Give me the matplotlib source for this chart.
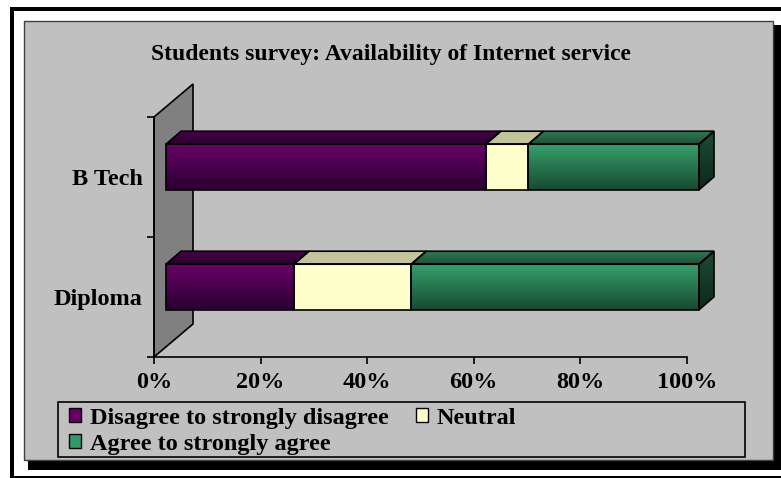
import numpy as np
import matplotlib.pyplot as plt
from matplotlib.patches import Polygon, Rectangle, Patch
from matplotlib.colors import to_rgb

plt.rcParams['font.family'] = ['Liberation Serif', 'DejaVu Serif']
plt.rcParams['font.weight'] = 'bold'

# shares in percent, rows bottom to top: Diploma, B Tech
categories = ['Diploma', 'B Tech']
disagree = [24, 60]
neutral = [22, 8]
agree = [54, 32]
series_names = ['Disagree to strongly disagree', 'Neutral', 'Agree to strongly agree']
x_ticks = [0, 20, 40, 60, 80, 100]
x_tick_labels = ['0%', '20%', '40%', '60%', '80%', '100%']
title = 'Students survey: Availability of Internet service'

# face colours: (front top, front bottom), (top face front, top face back)
front_cols = [('#680068', '#2a0030'), ('#ffffcc', '#ffffcc'), ('#35a06c', '#184a32')]
top_cols = [('#48004a', '#2c002e'), ('#c4c49c', '#c4c49c'), ('#2f7a54', '#1e5038')]
side_cols = ('#1c4a36', '#0c2a1c')
legend_cols = ['#660066', '#ffffcc', '#339966']

W, H = 781, 478
FS = 17.5
fig = plt.figure(figsize=(W / 100, H / 100), dpi=100)
fig.patch.set_facecolor('white')

# pixel canvas (origin top-left) for the frame, wall and 3D bar faces
bg = fig.add_axes([0, 0, 1, 1])
bg.set_xlim(0, W)
bg.set_ylim(H, 0)
bg.axis('off')

# outer frame, shadow and chart area
bg.add_patch(Rectangle((10, 7), 4, H - 7, color='black', lw=0))
bg.add_patch(Rectangle((10, 7), W - 10, 4, color='black', lw=0))
bg.add_patch(Rectangle((10, 476), W - 10, 2, color='black', lw=0))
bg.add_patch(Rectangle((28, 25), W - 28, 445, color='black', lw=0))
bg.add_patch(Rectangle((24, 21), 749, 439, fc='#c0c0c0', ec='#404040', lw=1))

bg.text(391, 54, title, ha='center', va='center', fontsize=17, fontweight='bold')

# plotting axes: percent along x, categories along y
ax = fig.add_axes([154 / W, (H - 357) / H, (687 - 154) / W, (357 - 117) / H])
ax.set_xlim(0, 100)
ax.set_ylim(-0.5, 1.5)
ax.patch.set_alpha(0)
for s in ['top', 'right']:
    ax.spines[s].set_visible(False)
for s in ['left', 'bottom']:
    ax.spines[s].set_linewidth(1.2)
ax.set_xticks(x_ticks, x_tick_labels)
ax.tick_params(axis='x', direction='out', length=5, width=1.2, labelsize=FS, pad=6)
ax.set_yticks([-0.5, 0.5, 1.5], ['', '', ''])
ax.tick_params(axis='y', which='major', direction='out', length=5, width=1.2)
ax.set_yticks([0, 1], categories, minor=True)
ax.tick_params(axis='y', which='minor', length=0, labelsize=FS, pad=8)


def to_img(x, y):
    px, py = ax.transData.transform((x, y))
    return px, H - py


def gradient(extent, c_top, c_bot, clip=None):
    a, b = np.array(to_rgb(c_top)), np.array(to_rgb(c_bot))
    t = np.linspace(0, 1, 64)[:, None]
    img = (a + (b - a) * t)[:, None, :]
    im = bg.imshow(img, extent=extent, origin='upper', aspect='auto',
                   interpolation='bilinear', zorder=3)
    if clip is not None:
        im.set_clip_path(clip)
    return im


wall_d = (39, -33)
front_off = (12, -10)
depth = (15, -13)
half_h = 0.19

# side wall
w0 = to_img(0, -0.5)
w1 = to_img(0, 1.5)
bg.add_patch(Polygon([w0, w1, (w1[0] + wall_d[0], w1[1] + wall_d[1]),
                      (w0[0] + wall_d[0], w0[1] + wall_d[1])],
                     closed=True, fc='#808080', ec='black', lw=1.2, zorder=2))

for i in range(len(categories)):
    values = [disagree[i], neutral[i], agree[i]]
    left = 0
    for k, v in enumerate(values):
        xa, ya = to_img(left, i + half_h)
        xb, yb = to_img(left + v, i - half_h)
        xa += front_off[0]; xb += front_off[0]
        ya += front_off[1]; yb += front_off[1]
        # front face
        gradient((xa, xb, yb, ya), *front_cols[k])
        bg.add_patch(Rectangle((xa, ya), xb - xa, yb - ya, fc='none', ec='black',
                               lw=1.2, zorder=5))
        # top face
        top = Polygon([(xa, ya), (xb, ya), (xb + depth[0], ya + depth[1]),
                       (xa + depth[0], ya + depth[1])], closed=True, fc='none',
                      ec='black', lw=1.2, zorder=5)
        bg.add_patch(top)
        clip_top = Polygon(top.get_xy(), closed=True, transform=bg.transData)
        gradient((xa, xb + depth[0], ya, ya + depth[1]), top_cols[k][0], top_cols[k][1],
                 clip=clip_top)
        # right end face
        if k == len(values) - 1:
            side = Polygon([(xb, ya), (xb + depth[0], ya + depth[1]),
                            (xb + depth[0], yb + depth[1]), (xb, yb)], closed=True,
                           fc='none', ec='black', lw=1.2, zorder=5)
            bg.add_patch(side)
            clip_side = Polygon(side.get_xy(), closed=True, transform=bg.transData)
            gradient((xb, xb + depth[0], yb, ya + depth[1]), *side_cols, clip=clip_side)
        left += v

bg.set_xlim(0, W)
bg.set_ylim(H, 0)

# legend box and entries
bg.add_patch(Rectangle((58, 402), 687, 55, fc='none', ec='black', lw=1.2, zorder=4))
handles = [Patch(fc=c, ec='black', lw=1) for c in legend_cols]
order = [0, 2, 1]
fig.legend([handles[j] for j in order], [series_names[j] for j in order],
           ncol=2, loc='upper left', bbox_to_anchor=(69 / W, (H - 408) / H),
           frameon=False, fontsize=FS, handlelength=0.5, handleheight=0.5,
           handletextpad=0.37, columnspacing=1.1, labelspacing=0.2,
           borderaxespad=0, borderpad=0.0)

fig.savefig('out.png', dpi=100)
